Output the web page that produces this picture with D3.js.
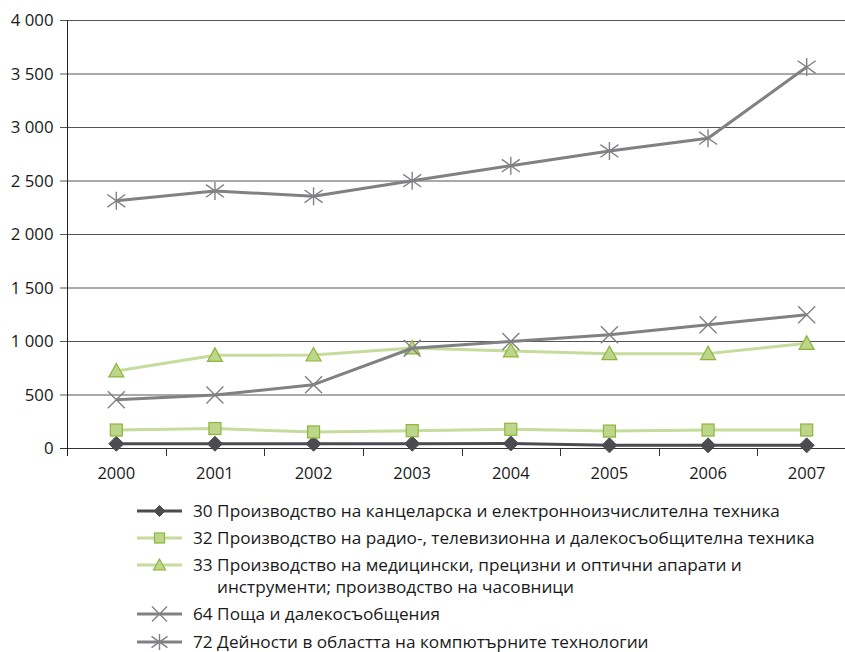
<!DOCTYPE html>
<html lang="bg">
<head>
<meta charset="utf-8">
<script src="https://cdn.jsdelivr.net/npm/d3@7"></script>
<style>
  html, body { margin: 0; padding: 0; background: #fff; }
  svg text { font-family: "Open Sans", "Noto Sans", sans-serif; fill: #1a1a1a; }
</style>
</head>
<body>
<svg id="chart" width="845" height="652" lang="bg"></svg>
<script>
const years = ["2000","2001","2002","2003","2004","2005","2006","2007"];
const yTicks = [0, 500, 1000, 1500, 2000, 2500, 3000, 3500, 4000];
const s30 = [40, 40, 40, 40, 42, 25, 25, 25];
const s32 = [168, 182, 150, 162, 175, 158, 168, 168];
const s33 = [720, 866, 869, 935, 907, 882, 882, 978];
const s64 = [452, 495, 592, 932, 995, 1058, 1152, 1245];
const s72 = [2310, 2402, 2352, 2498, 2638, 2776, 2895, 3560];
const labels = [
  ["30 Производство на канцеларска и електронноизчислителна техника"],
  ["32 Производство на радио-, телевизионна и далекосъобщителна техника"],
  ["33 Производство на медицински, прецизни и оптични апарати и", "инструменти; производство на часовници"],
  ["64 Поща и далекосъобщения"],
  ["72 Дейности в областта на компютърните технологии"]
];

const series = [
  { values: s30, line: "#4b4b50", marker: "diamond", fill: "#4b4b50", stroke: "#4b4b50" },
  { values: s32, line: "#c6dc9c", marker: "square", fill: "#bdd68a", stroke: "#8db53d" },
  { values: s33, line: "#c6dc9c", marker: "triangle", fill: "#bdd68a", stroke: "#8db53d" },
  { values: s64, line: "#818185", marker: "x", fill: "none", stroke: "#818185" },
  { values: s72, line: "#818185", marker: "star", fill: "none", stroke: "#818185" }
];

const svg = d3.select("#chart");
const x = d3.scaleBand().domain(years).range([67, 856]).padding(0);
const y = d3.scaleLinear().domain([0, 4000]).range([448, 20]);
const cx = d => x(d) + x.bandwidth() / 2;
const fmt = v => d3.format(",")(v).replace(/,/g, "\u00a0");

// gridlines
svg.append("g").selectAll("line").data(yTicks).join("line")
  .attr("x1", 60).attr("x2", 845)
  .attr("y1", d => y(d) + 0.5).attr("y2", d => y(d) + 0.5)
  .attr("stroke", d => d === 0 ? "#333" : "#555").attr("stroke-width", 1);

// y axis
const yAxis = d3.axisLeft(y).tickValues(yTicks).tickSize(0).tickPadding(14).tickFormat(fmt);
const gy = svg.append("g").attr("transform", "translate(67.5,0)").call(yAxis);
gy.select(".domain").remove();
gy.selectAll("text").attr("font-size", 16.8).attr("fill", "#1a1a1a").attr("dy", "0.35em");
svg.append("line").attr("x1", 67.5).attr("x2", 67.5).attr("y1", 20).attr("y2", 456)
  .attr("stroke", "#222").attr("stroke-width", 1);

// x axis ticks at band boundaries
const bounds = years.map(d => x(d)).concat([x(years[years.length - 1]) + x.bandwidth()]);
svg.append("g").selectAll("line").data(bounds.slice(1)).join("line")
  .attr("x1", d => Math.round(d) + 0.5).attr("x2", d => Math.round(d) + 0.5)
  .attr("y1", 448).attr("y2", 456).attr("stroke", "#333");
const xAxis = d3.axisBottom(x).tickSize(0).tickPadding(0);
const gx = svg.append("g").attr("transform", "translate(0,467)").call(xAxis);
gx.select(".domain").remove();
gx.selectAll("text").attr("font-size", 16.5).attr("fill", "#1a1a1a").attr("dy", "0.75em");

function drawMarker(g, type, s, px, py, size) {
  const r = size / 2;
  if (type === "diamond") {
    g.append("path").attr("d", `M${px},${py - r}L${px + r},${py}L${px},${py + r}L${px - r},${py}Z`)
      .attr("fill", s.fill).attr("stroke", s.stroke);
  } else if (type === "square") {
    g.append("rect").attr("x", px - r).attr("y", py - r).attr("width", size).attr("height", size)
      .attr("fill", s.fill).attr("stroke", s.stroke).attr("stroke-width", 1.2);
  } else if (type === "triangle") {
    g.append("path").attr("d", `M${px},${py - r}L${px + r},${py + r * 0.8}L${px - r},${py + r * 0.8}Z`)
      .attr("fill", s.fill).attr("stroke", s.stroke).attr("stroke-width", 1.2);
  } else if (type === "x") {
    g.append("path").attr("d", `M${px - r},${py - r}L${px + r},${py + r}M${px - r},${py + r}L${px + r},${py - r}`)
      .attr("stroke", s.stroke).attr("stroke-width", 1.4).attr("fill", "none");
  } else if (type === "star") {
    g.append("path").attr("d", `M${px - r},${py - r * 0.7}L${px + r},${py + r * 0.7}M${px - r},${py + r * 0.7}L${px + r},${py - r * 0.7}M${px},${py - r}L${px},${py + r}`)
      .attr("stroke", s.stroke).attr("stroke-width", 1.4).attr("fill", "none");
  }
}

const sizes = { diamond: 15, square: 12, triangle: 15, x: 17, star: 18 };
const line = d3.line().x((d, i) => cx(years[i])).y(d => y(d));
series.forEach(s => {
  const g = svg.append("g");
  g.append("path").datum(s.values).attr("d", line)
    .attr("fill", "none").attr("stroke", s.line).attr("stroke-width", 3).attr("stroke-linejoin", "round");
  s.values.forEach((v, i) => drawMarker(g, s.marker, s, cx(years[i]), y(v), sizes[s.marker]));
});

// legend
const legendY = [511, 538, 565, 614, 642];
const lg = svg.append("g");
series.forEach((s, i) => {
  const ly = legendY[i];
  lg.append("line").attr("x1", 137).attr("x2", 182).attr("y1", ly).attr("y2", ly)
    .attr("stroke", s.line).attr("stroke-width", 3);
  const msz = { diamond: 11, square: 10, triangle: 12, x: 15, star: 16 }[s.marker];
  drawMarker(lg, s.marker, s, 159.5, ly, msz);
  labels[i].forEach((t, j) => {
    lg.append("text").attr("x", j === 0 ? 193 : 217).attr("y", ly + j * 22).attr("dy", "0.35em")
      .attr("font-size", 17.2).text(t);
  });
});
</script>
</body>
</html>
